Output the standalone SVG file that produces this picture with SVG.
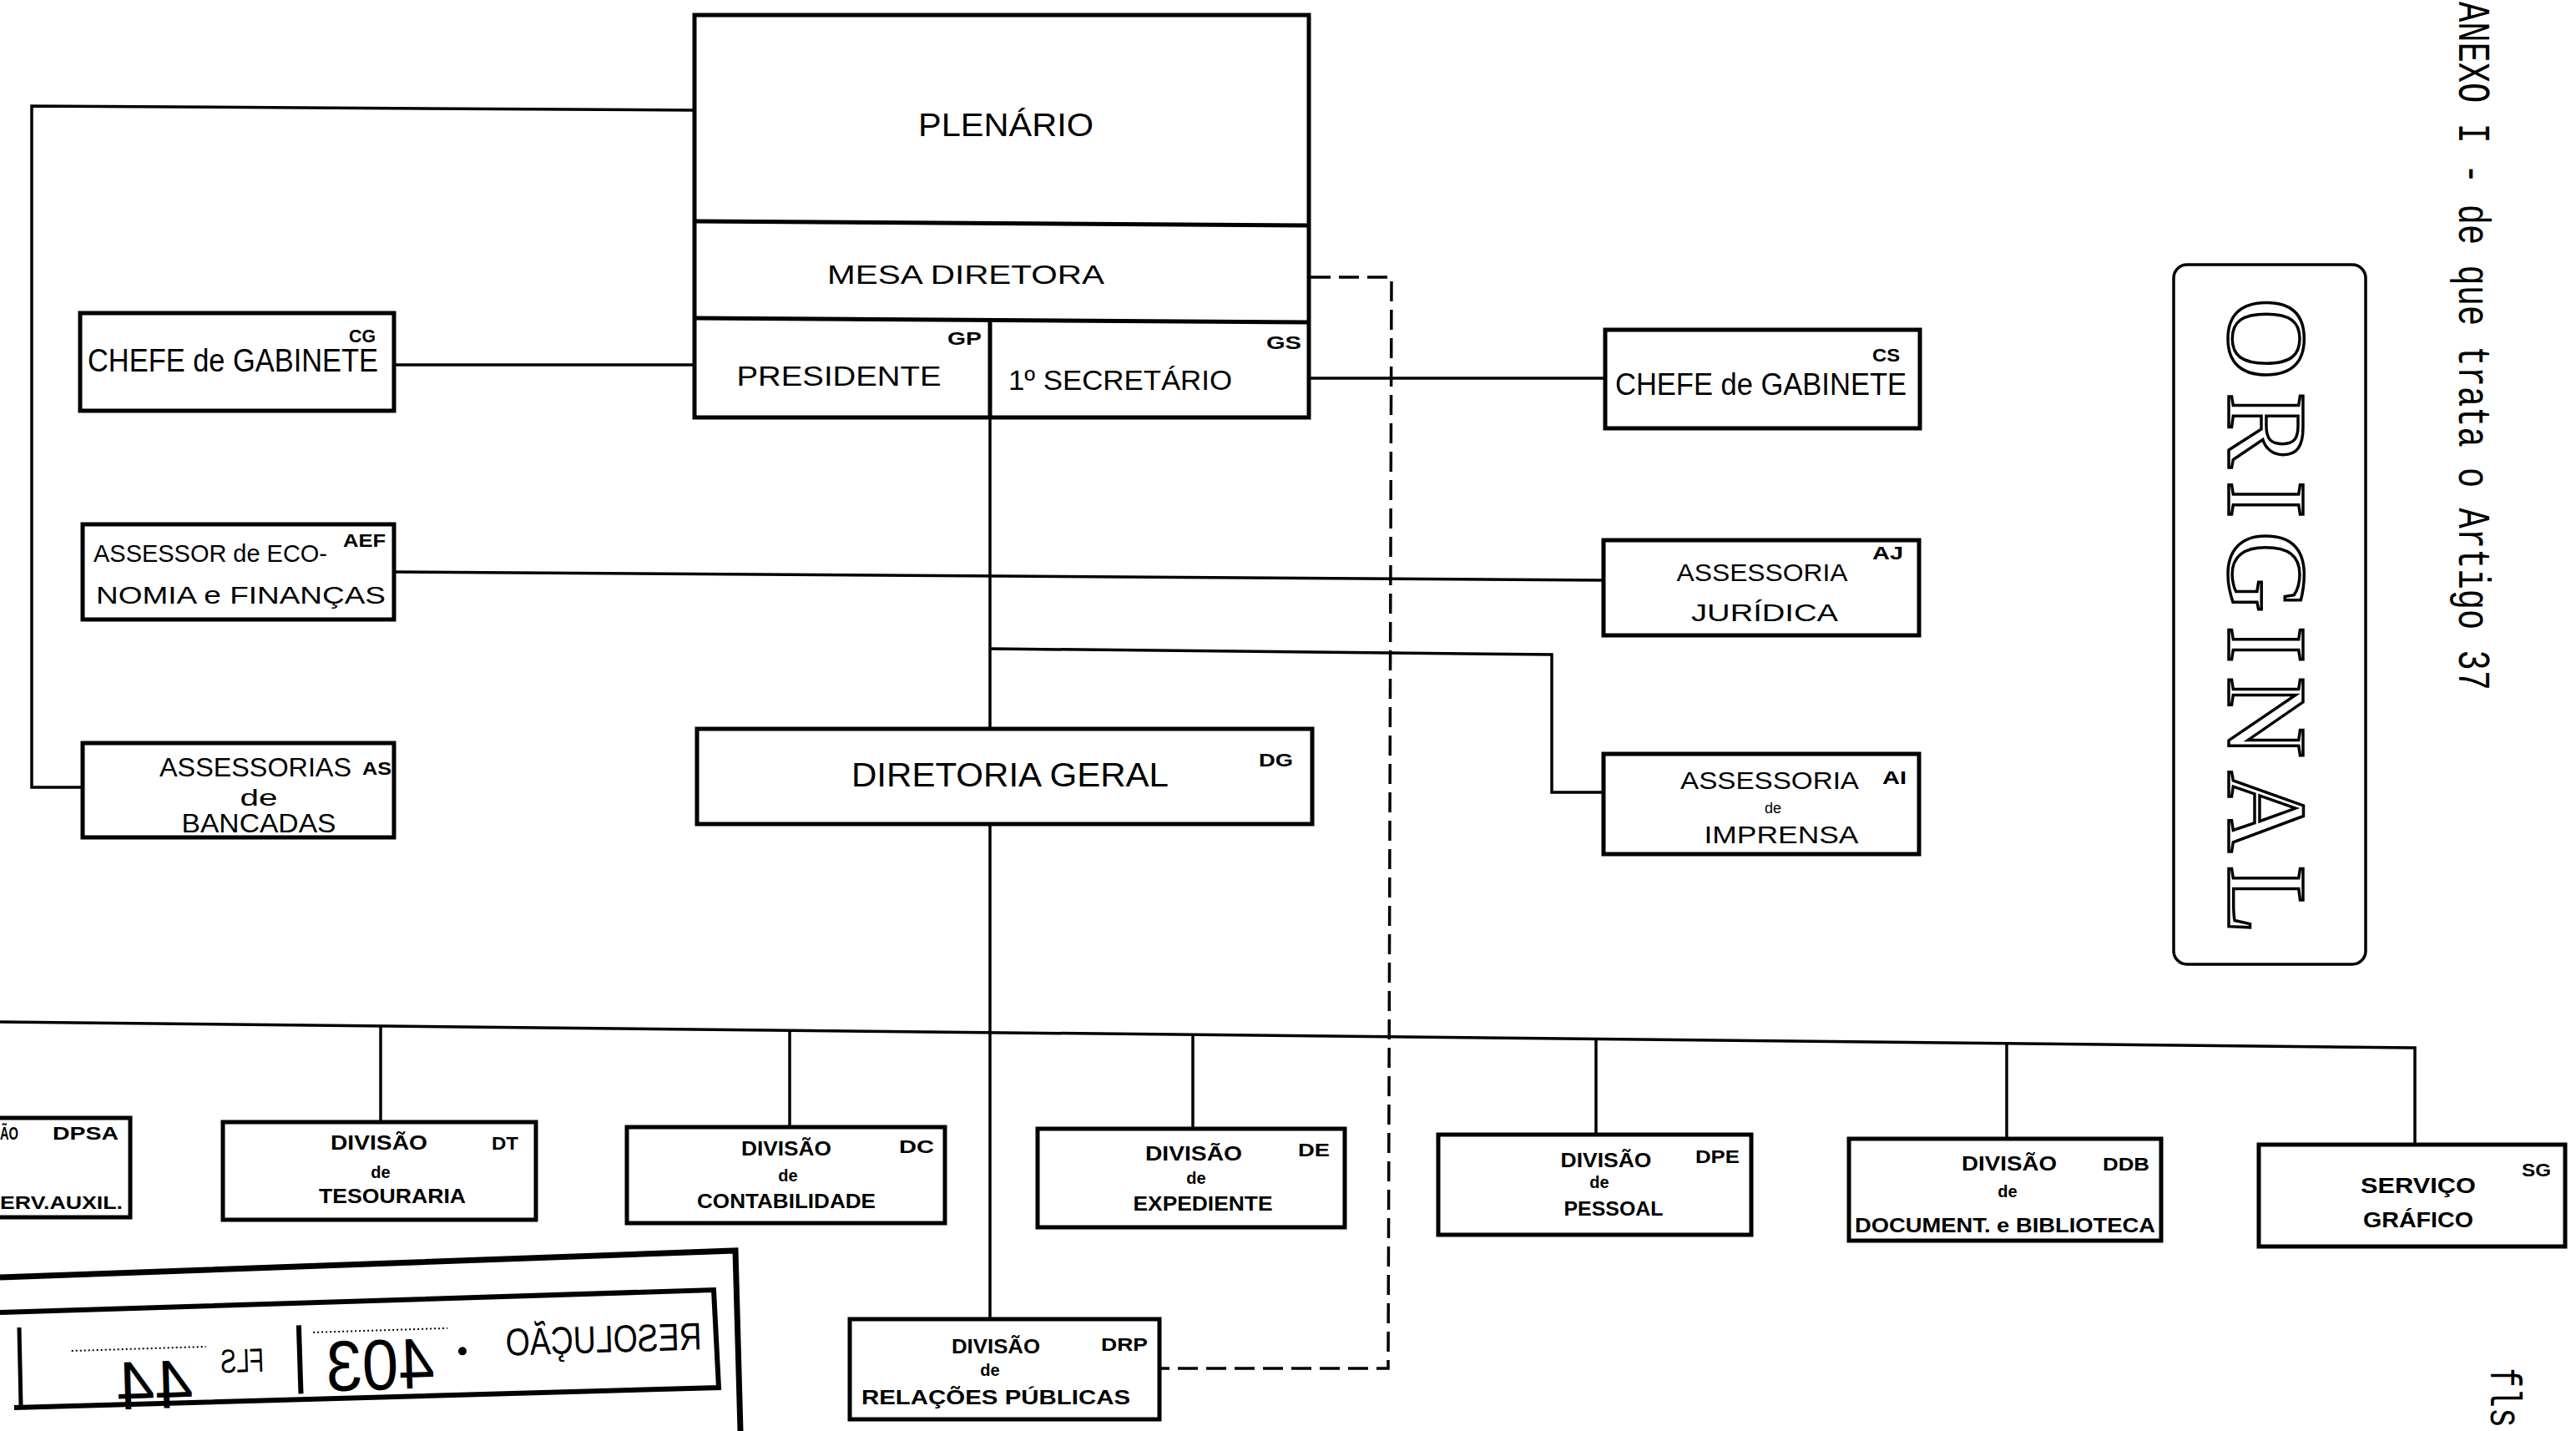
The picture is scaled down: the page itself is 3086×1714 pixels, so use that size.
<svg xmlns="http://www.w3.org/2000/svg" width="3086" height="1714" viewBox="0 0 3086 1714">
<style>
.box{fill:#fff;stroke:#000;stroke-width:5}
.ln{fill:none;stroke:#000;stroke-width:3.5}
.dash{fill:none;stroke:#000;stroke-width:3.5;stroke-dasharray:24 10}
.t{font-family:"Liberation Sans",Arial,sans-serif;fill:#000}
.b{font-family:"Liberation Sans",Arial,sans-serif;font-weight:bold;fill:#000}
.c{font-family:"Liberation Sans",Arial,sans-serif;font-weight:bold;fill:#000;font-size:22px}
.m{font-family:"Liberation Mono","Courier New",monospace;fill:#000;font-size:40px}
</style>
<rect width="3086" height="1714" fill="#fff"/>

<g id="connectors">
  <path class="ln" d="M832,132 L38,127 L38,943 L99,943"/>
  <path class="ln" d="M472,437 L832,437"/>
  <path class="ln" d="M1568,453 L1923,453"/>
  <path class="ln" d="M472,685 L1921,695"/>
  <path class="ln" d="M1186,500 L1186,873"/>
  <path class="ln" d="M1186,777 L1859,784 L1859,949 L1921,949"/>
  <path class="ln" d="M1186,987 L1186,1580"/>
  <path class="ln" d="M0,1224 L2893,1255 L2893,1371"/>
  <path class="ln" d="M456,1229 L456,1344"/>
  <path class="ln" d="M946,1234 L946,1350"/>
  <path class="ln" d="M1429,1239 L1429,1352"/>
  <path class="ln" d="M1912,1245 L1912,1359"/>
  <path class="ln" d="M2404,1250 L2404,1364"/>
  <path class="dash" d="M1570,332 L1667,332 L1663,1639 L1389,1639"/>
</g>

<g id="plenario">
  <rect class="box" x="832" y="18" width="736" height="482"/>
  <path class="ln" style="stroke-width:5" d="M832,265 L1568,270 M832,381 L1568,386 M1186,383 L1186,500"/>
  <text class="t" x="1205" y="163" font-size="39" text-anchor="middle" textLength="210" lengthAdjust="spacingAndGlyphs">PLENÁRIO</text>
  <text class="t" x="1157" y="340" font-size="32" text-anchor="middle" textLength="332" lengthAdjust="spacingAndGlyphs">MESA  DIRETORA</text>
  <text class="t" x="1005" y="462" font-size="33" text-anchor="middle" textLength="245" lengthAdjust="spacingAndGlyphs">PRESIDENTE</text>
  <text class="t" x="1342" y="467" font-size="33" text-anchor="middle" textLength="268" lengthAdjust="spacingAndGlyphs">1º SECRETÁRIO</text>
  <text class="c" x="1135" y="413" textLength="41" lengthAdjust="spacingAndGlyphs">GP</text>
  <text class="c" x="1517" y="418" textLength="42" lengthAdjust="spacingAndGlyphs">GS</text>
</g>

<g id="chefe-gabinete-cg">
  <rect class="box" x="96" y="375" width="376" height="117"/>
  <text class="t" x="105" y="445" font-size="38" textLength="348" lengthAdjust="spacingAndGlyphs">CHEFE de GABINETE</text>
  <text class="c" x="418" y="410" textLength="32" lengthAdjust="spacingAndGlyphs">CG</text>
</g>

<g id="chefe-gabinete-cs">
  <rect class="box" x="1923" y="395" width="377" height="118"/>
  <text class="t" x="1935" y="473" font-size="36" textLength="349" lengthAdjust="spacingAndGlyphs">CHEFE de GABINETE</text>
  <text class="c" x="2243" y="433" textLength="33" lengthAdjust="spacingAndGlyphs">CS</text>
</g>

<g id="assessor-aef">
  <rect class="box" x="99" y="628" width="373" height="114"/>
  <text class="t" x="112" y="673" font-size="29" textLength="280" lengthAdjust="spacingAndGlyphs">ASSESSOR de ECO-</text>
  <text class="t" x="115" y="723" font-size="29" textLength="347" lengthAdjust="spacingAndGlyphs">NOMIA e FINANÇAS</text>
  <text class="c" x="411" y="655" font-size="20" textLength="51" lengthAdjust="spacingAndGlyphs">AEF</text>
</g>

<g id="assessorias-as">
  <rect class="box" x="99" y="890" width="373" height="113"/>
  <text class="t" x="306" y="930" font-size="32" text-anchor="middle" textLength="230" lengthAdjust="spacingAndGlyphs">ASSESSORIAS</text>
  <text class="t" x="310" y="965" font-size="28" text-anchor="middle" textLength="45" lengthAdjust="spacingAndGlyphs">de</text>
  <text class="t" x="310" y="997" font-size="32" text-anchor="middle" textLength="185" lengthAdjust="spacingAndGlyphs">BANCADAS</text>
  <text class="c" x="434" y="928" textLength="35" lengthAdjust="spacingAndGlyphs">AS</text>
</g>

<g id="assessoria-juridica">
  <rect class="box" x="1921" y="647" width="378" height="114"/>
  <text class="t" x="2111" y="696" font-size="30" text-anchor="middle" textLength="205" lengthAdjust="spacingAndGlyphs">ASSESSORIA</text>
  <text class="t" x="2114" y="744" font-size="30" text-anchor="middle" textLength="176" lengthAdjust="spacingAndGlyphs">JURÍDICA</text>
  <text class="c" x="2243" y="670" textLength="37" lengthAdjust="spacingAndGlyphs">AJ</text>
</g>

<g id="assessoria-imprensa">
  <rect class="box" x="1921" y="903" width="378" height="120"/>
  <text class="t" x="2120" y="945" font-size="30" text-anchor="middle" textLength="214" lengthAdjust="spacingAndGlyphs">ASSESSORIA</text>
  <text class="t" x="2124" y="974" font-size="18" text-anchor="middle">de</text>
  <text class="t" x="2134" y="1010" font-size="30" text-anchor="middle" textLength="185" lengthAdjust="spacingAndGlyphs">IMPRENSA</text>
  <text class="c" x="2255" y="939" textLength="29" lengthAdjust="spacingAndGlyphs">AI</text>
</g>

<g id="diretoria-geral">
  <rect class="box" x="835" y="873" width="737" height="114"/>
  <text class="t" x="1210" y="942" font-size="40" text-anchor="middle" textLength="380" lengthAdjust="spacingAndGlyphs">DIRETORIA GERAL</text>
  <text class="c" x="1508" y="918" textLength="41" lengthAdjust="spacingAndGlyphs">DG</text>
</g>

<g id="divisao-dpsa">
  <rect class="box" x="-20" y="1339" width="176" height="119"/>
  <text class="b" x="0" y="1365" font-size="22" textLength="22" lengthAdjust="spacingAndGlyphs">ÃO</text>
  <text class="c" x="63" y="1365" textLength="79" lengthAdjust="spacingAndGlyphs">DPSA</text>
  <text class="b" x="0" y="1448" font-size="22" textLength="147" lengthAdjust="spacingAndGlyphs">ERV.AUXIL.</text>
</g>

<g id="divisao-dt">
  <rect class="box" x="267" y="1344" width="375" height="117"/>
  <text class="b" x="454" y="1377" font-size="23" text-anchor="middle" textLength="116" lengthAdjust="spacingAndGlyphs">DIVISÃO</text>
  <text class="b" x="456" y="1411" font-size="20" text-anchor="middle">de</text>
  <text class="b" x="470" y="1441" font-size="23" text-anchor="middle" textLength="176" lengthAdjust="spacingAndGlyphs">TESOURARIA</text>
  <text class="c" x="589" y="1377" textLength="32" lengthAdjust="spacingAndGlyphs">DT</text>
</g>

<g id="divisao-dc">
  <rect class="box" x="751" y="1350" width="381" height="115"/>
  <text class="b" x="942" y="1384" font-size="23" text-anchor="middle" textLength="108" lengthAdjust="spacingAndGlyphs">DIVISÃO</text>
  <text class="b" x="944" y="1415" font-size="20" text-anchor="middle">de</text>
  <text class="b" x="942" y="1447" font-size="23" text-anchor="middle" textLength="214" lengthAdjust="spacingAndGlyphs">CONTABILIDADE</text>
  <text class="c" x="1077" y="1381" textLength="42" lengthAdjust="spacingAndGlyphs">DC</text>
</g>

<g id="divisao-de">
  <rect class="box" x="1243" y="1352" width="368" height="118"/>
  <text class="b" x="1430" y="1390" font-size="24" text-anchor="middle" textLength="116" lengthAdjust="spacingAndGlyphs">DIVISÃO</text>
  <text class="b" x="1433" y="1418" font-size="20" text-anchor="middle">de</text>
  <text class="b" x="1441" y="1450" font-size="24" text-anchor="middle" textLength="167" lengthAdjust="spacingAndGlyphs">EXPEDIENTE</text>
  <text class="c" x="1555" y="1385" textLength="38" lengthAdjust="spacingAndGlyphs">DE</text>
</g>

<g id="divisao-dpe">
  <rect class="box" x="1723" y="1359" width="375" height="120"/>
  <text class="b" x="1924" y="1398" font-size="23" text-anchor="middle" textLength="109" lengthAdjust="spacingAndGlyphs">DIVISÃO</text>
  <text class="b" x="1916" y="1423" font-size="20" text-anchor="middle">de</text>
  <text class="b" x="1933" y="1456" font-size="23" text-anchor="middle" textLength="119" lengthAdjust="spacingAndGlyphs">PESSOAL</text>
  <text class="c" x="2031" y="1393" textLength="53" lengthAdjust="spacingAndGlyphs">DPE</text>
</g>

<g id="divisao-ddb">
  <rect class="box" x="2215" y="1364" width="374" height="122"/>
  <text class="b" x="2407" y="1402" font-size="23" text-anchor="middle" textLength="114" lengthAdjust="spacingAndGlyphs">DIVISÃO</text>
  <text class="b" x="2405" y="1434" font-size="20" text-anchor="middle">de</text>
  <text class="b" x="2402" y="1476" font-size="23" text-anchor="middle" textLength="360" lengthAdjust="spacingAndGlyphs">DOCUMENT. e BIBLIOTECA</text>
  <text class="c" x="2519" y="1402" textLength="56" lengthAdjust="spacingAndGlyphs">DDB</text>
</g>

<g id="servico-sg">
  <rect class="box" x="2706" y="1371" width="367" height="122"/>
  <text class="b" x="2897" y="1429" font-size="26" text-anchor="middle" textLength="138" lengthAdjust="spacingAndGlyphs">SERVIÇO</text>
  <text class="b" x="2897" y="1470" font-size="26" text-anchor="middle" textLength="132" lengthAdjust="spacingAndGlyphs">GRÁFICO</text>
  <text class="c" x="3021" y="1409" textLength="35" lengthAdjust="spacingAndGlyphs">SG</text>
</g>

<g id="divisao-drp">
  <rect class="box" x="1018" y="1580" width="371" height="120"/>
  <text class="b" x="1193" y="1621" font-size="23" text-anchor="middle" textLength="106" lengthAdjust="spacingAndGlyphs">DIVISÃO</text>
  <text class="b" x="1186" y="1648" font-size="20" text-anchor="middle">de</text>
  <text class="b" x="1193" y="1682" font-size="24" text-anchor="middle" textLength="322" lengthAdjust="spacingAndGlyphs">RELAÇÕES PÚBLICAS</text>
  <text class="c" x="1319" y="1618" textLength="56" lengthAdjust="spacingAndGlyphs">DRP</text>
</g>

<g id="carimbo-original">
  <rect x="2604" y="317" width="230" height="838" rx="16" fill="none" stroke="#000" stroke-width="3.5"/>
  <text transform="translate(2670,357) rotate(90)" font-family="'Liberation Serif','Times New Roman',serif" font-size="135" textLength="762" lengthAdjust="spacing" fill="#fff" stroke="#000" stroke-width="3.5">ORIGINAL</text>
</g>

<g id="anexo">
  <text class="m" transform="translate(2946,2) rotate(90) scale(1,1.35)" textLength="825" lengthAdjust="spacingAndGlyphs">ANEXO I - de que trata o Artigo 37</text>
  <text class="m" transform="translate(2984,1638) rotate(90) scale(1,1.3)">fls</text>
</g>

<g id="carimbo-protocolo">
  <path fill="none" stroke="#000" stroke-width="7" d="M0,1530 L881,1498 L887,1714"/>
  <path fill="none" stroke="#000" stroke-width="6" d="M0,1572 L855,1545 L861,1662 L17,1686"/>
  <path fill="none" stroke="#000" stroke-width="5" d="M23,1590 L25,1683"/>
  <g transform="rotate(-1.8 500 1620)">
    <path fill="none" stroke="#000" stroke-width="2" stroke-dasharray="2 3" d="M86,1605 L247,1605 M376,1592 L537,1592"/>
    <text class="t" transform="translate(230,1677) scale(-1,1)" font-size="82" textLength="92" lengthAdjust="spacingAndGlyphs">44</text>
    <text class="t" transform="translate(316,1637) scale(-1,1)" font-size="40" textLength="52" lengthAdjust="spacingAndGlyphs">FLS</text>
    <path stroke="#000" stroke-width="6" d="M359,1583 L359,1665"/>
    <text class="t" transform="translate(520,1663) scale(-1,1)" font-size="86" textLength="130" lengthAdjust="spacingAndGlyphs">403</text>
    <circle cx="554" cy="1620" r="5" fill="#000"/>
    <text class="t" transform="translate(841,1627) scale(-1,1)" font-size="46" textLength="235" lengthAdjust="spacingAndGlyphs">RESOLUÇÃO</text>
  </g>
</g>
</svg>
